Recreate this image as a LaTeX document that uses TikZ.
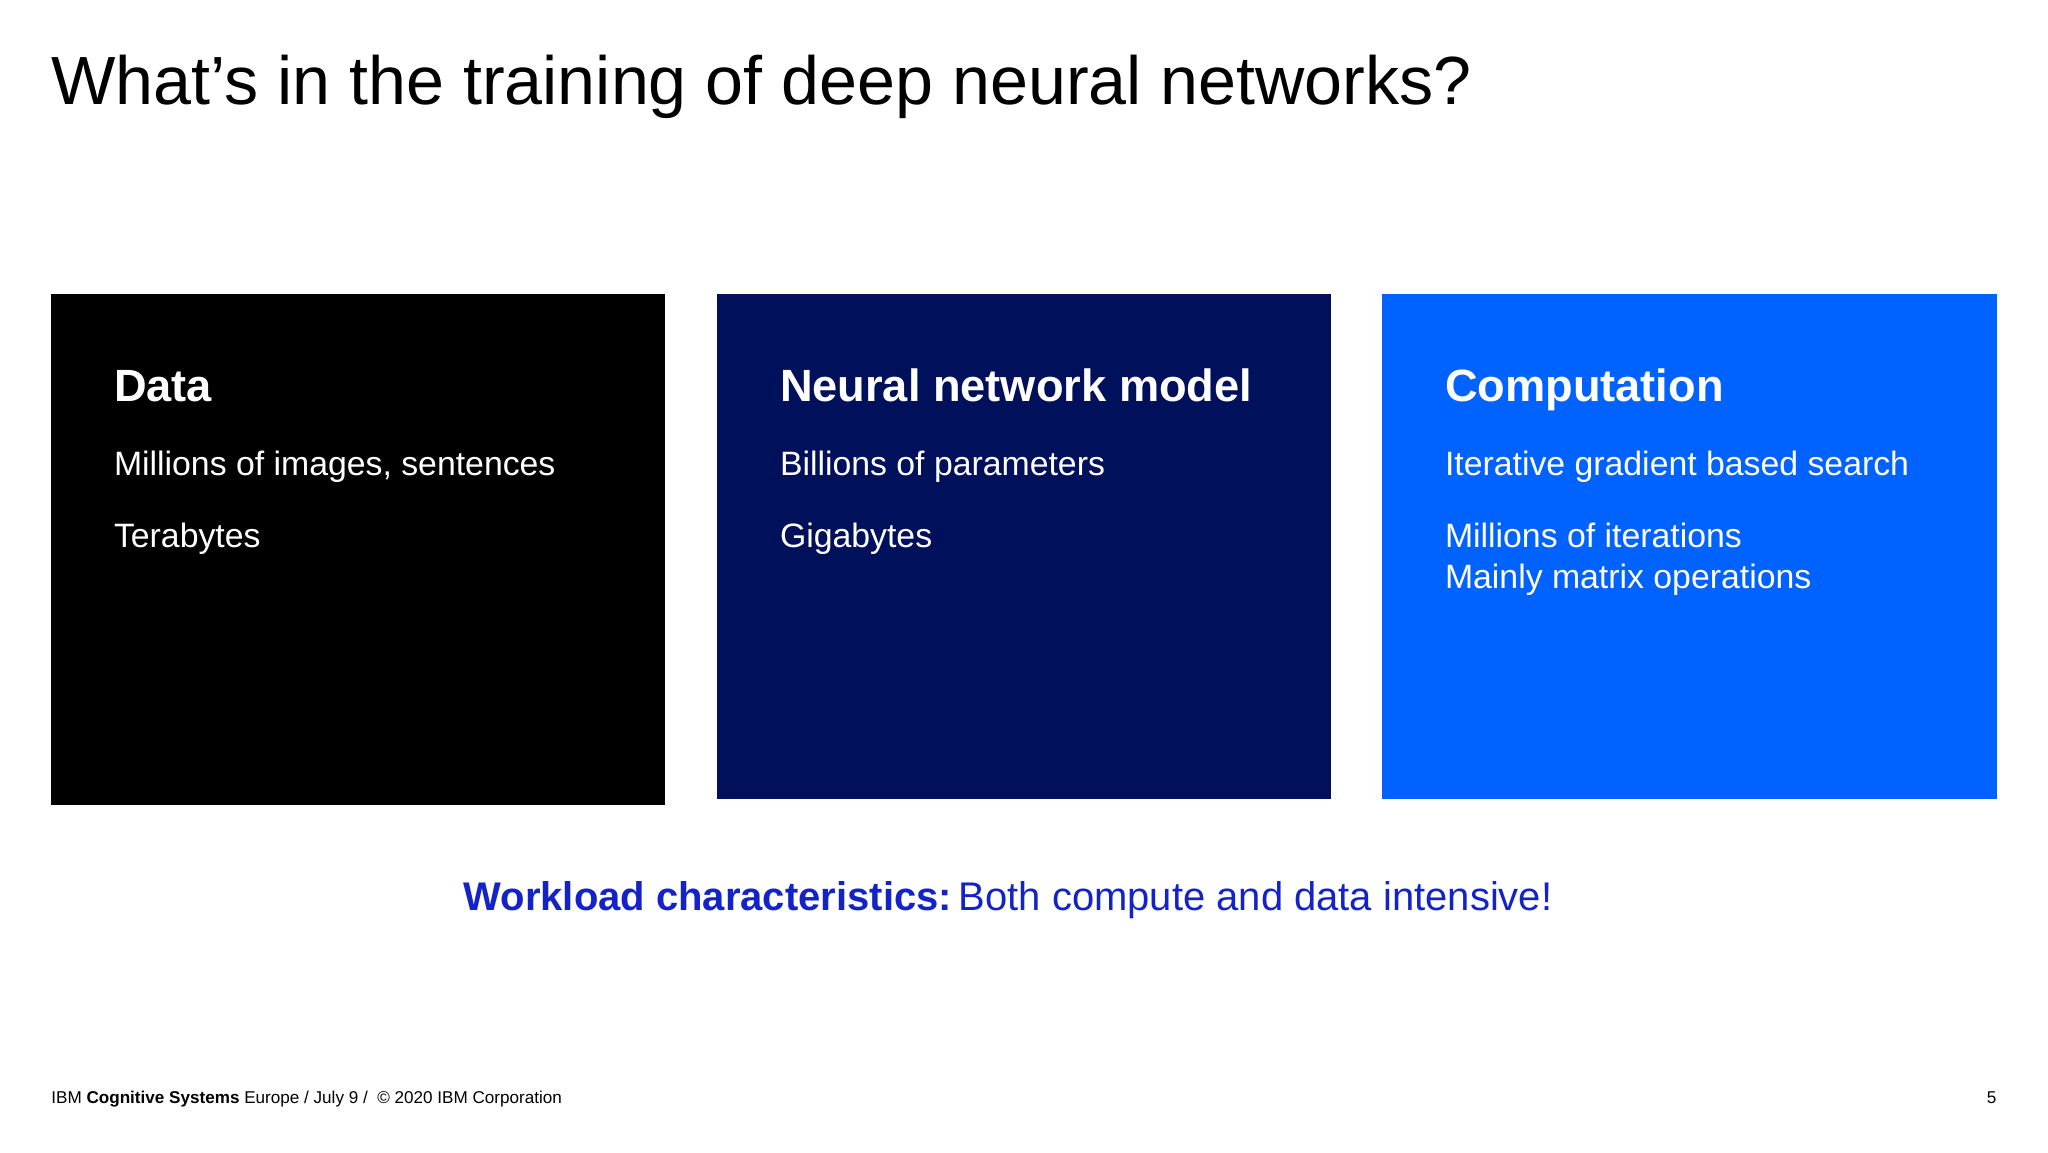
\documentclass[tikz,border=0pt]{standalone}
\usepackage{fontspec}
\setmainfont{Liberation Sans}
\definecolor{navy}{RGB}{1,16,90}
\definecolor{ibmblue}{RGB}{0,98,255}
\definecolor{wlblue}{RGB}{20,35,200}
\tikzset{
  head/.style={anchor=base west,inner sep=0pt,text=white,font=\fontsize{22.6}{26}\selectfont\bfseries},
  body/.style={anchor=base west,inner sep=0pt,text=white,font=\fontsize{16.9}{20}\selectfont},
}
\begin{document}
\begin{tikzpicture}[x=1pt,y=1pt]
\useasboundingbox[fill=white] (0,0) rectangle (1024,-576);
\node[anchor=base west,inner sep=0pt,font=\fontsize{34.1}{40}\selectfont] (title) at (25.5,-52) {What’s in the training of deep neural networks?};
\fill[black] (25.5,-147) rectangle (332.4,-402.5);
\fill[navy] (358.5,-147) rectangle (665.4,-399.3);
\fill[ibmblue] (691,-147) rectangle (998.4,-399.3);
\node[head] (h1) at (56.8,-200.5) {Data};
\node[body] (t11) at (56.8,-237.7) {Millions of images, sentences};
\node[body] (t12) at (56.8,-273.6) {Terabytes};
\node[head] (h2) at (389.8,-200.5) {Neural network model};
\node[body] (t21) at (389.8,-237.7) {Billions of parameters};
\node[body] (t22) at (389.8,-273.6) {Gigabytes};
\node[head] (h3) at (722.3,-200.5) {Computation};
\node[body] (t31) at (722.3,-237.7) {Iterative gradient based search};
\node[body] (t32) at (722.3,-273.6) {Millions of iterations};
\node[body] (t33) at (722.3,-294) {Mainly matrix operations};
\node[anchor=base,inner sep=0pt,text=wlblue,font=\fontsize{20}{24}\selectfont] (wl) at (504,-455) {\textbf{Workload characteristics:}\,Both compute and data intensive!};
\node[anchor=base west,inner sep=0pt,font=\fontsize{8.55}{10}\selectfont] (foot) at (25.5,-551.8) {IBM \textbf{Cognitive Systems} Europe / July 9 / \ © 2020 IBM Corporation};
\node[anchor=base east,inner sep=0pt,font=\fontsize{8.55}{10}\selectfont] (pg) at (998.4,-551.8) {5};
\end{tikzpicture}
\end{document}
